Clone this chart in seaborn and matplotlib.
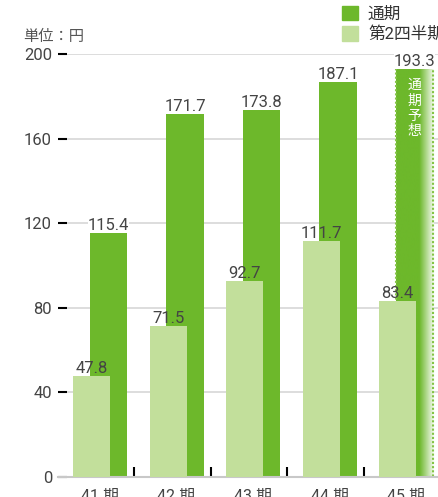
import numpy as np
import pandas as pd
import matplotlib
matplotlib.use("Agg")
import matplotlib.pyplot as plt
import matplotlib.colors as mcolors
import matplotlib.transforms as mtransforms
from matplotlib.patches import Patch, Rectangle
import seaborn as sns

# ---- data ----
periods = ["41 期", "42 期", "43 期", "44 期", "45 期"]
full_year = [115.4, 171.7, 173.8, 187.1, 193.3]
q2 = [47.8, 71.5, 92.7, 111.7, 83.4]
full_labels = ["115.4", "171.7", "173.8", "187.1", "193.3"]
q2_labels = ["47.8", "71.5", "92.7", "111.7", "83.4"]
y_ticks = [0, 40, 80, 120, 160, 200]
legend_labels = ["通期", "第2四半期"]
unit_label = "単位：円"
forecast_label = "通\n期\n予\n想"

sns.set_theme(style="white")
plt.rcParams['font.family'] = ['Roboto', 'Noto Sans CJK JP', 'DejaVu Sans']

DARK = "#6db82b"
LIGHT = "#c2df9b"
TXT = "#444444"
W, H = 439, 497
fig = plt.figure(figsize=(W / 100, H / 100), dpi=100)
ax = fig.add_axes([58 / W, 20 / H, (W - 58) / W, 423 / H])

idx = np.arange(len(periods))
off = 0.111
bw = 0.484
df = pd.DataFrame({"pos_full": idx + off, "full": full_year,
                   "pos_q2": idx - off, "q2": q2})

sns.barplot(data=df, x="pos_full", y="full", native_scale=True, width=bw,
            color=DARK, saturation=1, errorbar=None, ax=ax, zorder=2,
            edgecolor='none', linewidth=0)

# forecast bar: gradient + dotted border
fp = ax.patches[len(periods) - 1]
x0, w, h = fp.get_x(), fp.get_width(), fp.get_height()
n = 256
t = np.linspace(0, 1, n)
a = np.clip((t - 0.62) / 0.38, 0, 1) * 0.95
drgb = np.array(mcolors.to_rgb(DARK))
rgb = drgb[None, :] * (1 - a[:, None]) + a[:, None]
im = ax.imshow(rgb[None, :, :], extent=[x0, x0 + w, 0, h], aspect='auto',
               zorder=2.05, interpolation='bilinear')
im.set_clip_path(fp)
ax.add_patch(Rectangle((x0, 0), w, h, fill=False, edgecolor="#84c446",
                       linestyle=(0, (1, 1)), lw=1.5, zorder=2.1))

sns.barplot(data=df, x="pos_q2", y="q2", native_scale=True, width=bw,
            color=LIGHT, saturation=1, errorbar=None, ax=ax, zorder=3,
            edgecolor='none', linewidth=0)

ax.set_xlim(-0.549, 4.431)
ax.set_ylim(0, 200)
ax.set_xlabel("")
ax.set_ylabel("")

# value labels
tr = mtransforms.offset_copy(ax.transData, fig=fig, x=0, y=2.5, units='dots')
for i, (v, s) in enumerate(zip(full_year, full_labels)):
    ax.text(i + off, v, s, transform=tr, ha='center', va='baseline',
            fontsize=12, color=TXT, zorder=5, clip_on=False,
            bbox=dict(fc='white', ec='none', pad=0))
for i, (v, s) in enumerate(zip(q2, q2_labels)):
    ax.text(i - off, v, s, transform=tr, ha='center', va='baseline',
            fontsize=12, color=TXT, zorder=5, clip_on=False)

ax.text(len(periods) - 1 + off, 188.5, forecast_label, ha='center', va='top',
        fontsize=10, color='white', linespacing=1.12, zorder=6,
        family=['Noto Sans CJK JP', 'DejaVu Sans'])

# axes styling
ax.set_yticks(y_ticks)
ax.set_yticklabels([str(v) for v in y_ticks])
ax.set_xticks(idx)
ax.set_xticklabels(periods)
ax.set_xticks(idx[:-1] + 0.45, minor=True)
ax.tick_params(axis='y', which='major', direction='in', length=6.5, width=1.5,
               color='black', labelcolor=TXT, labelsize=12, pad=4.3, left=True)
ax.tick_params(axis='x', which='major', length=0, labelcolor=TXT,
               labelsize=11.5, pad=8.5)
ax.tick_params(axis='x', which='minor', direction='in', length=7, width=1.5,
               color='black', bottom=True)
for s in ['top', 'right', 'left']:
    ax.spines[s].set_visible(False)
ax.spines['bottom'].set_color('#c8c8c8')
ax.spines['bottom'].set_linewidth(1.5)
ax.yaxis.grid(True, color='#d3d3d3', lw=1.1)
ax.xaxis.grid(False)
ax.set_axisbelow(True)

# legend
handles = [Patch(color=DARK), Patch(color=LIGHT)]
leg = fig.legend(handles, legend_labels, loc='upper left',
                 bbox_to_anchor=(342 / W, 1 - 6 / H), frameon=False,
                 fontsize=12, handlelength=0.96, handleheight=0.96,
                 handletextpad=0.6, labelspacing=0.25, borderpad=0,
                 borderaxespad=0)
for tx in leg.get_texts():
    tx.set_color('#333333')

fig.text(23 / W, 1 - 37 / H, unit_label, ha='left', va='center',
         fontsize=11, color='#555555')

fig.savefig('out.png', dpi=100)
